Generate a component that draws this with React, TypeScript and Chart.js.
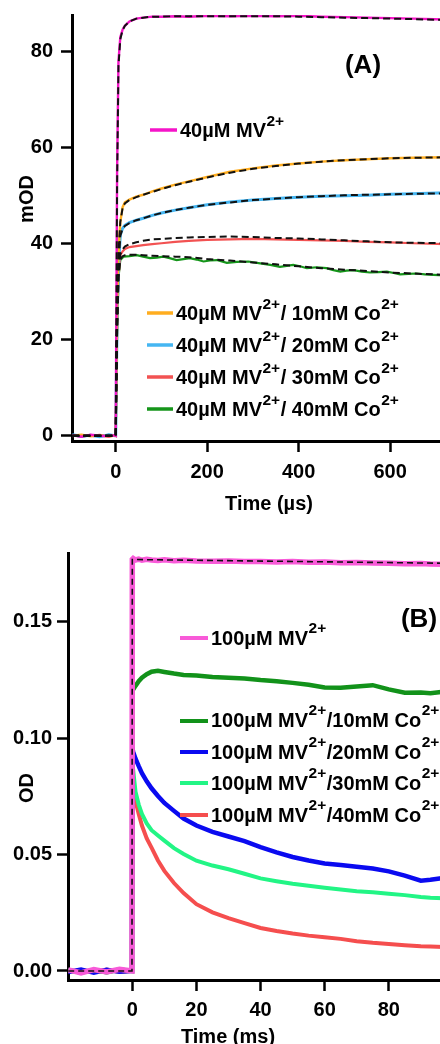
import React, { useEffect, useRef } from "react";
import { Chart, registerables } from "chart.js";

Chart.register(...registerables);

const FONT = "'Liberation Sans', Arial, Helvetica, sans-serif";

// ---------------- Panel A : time (µs) / mOD ----------------
const TIME_A = [-95, -75, -55, -35, -15, -2, 0, 3, 6, 10, 15, 20, 30, 45, 60, 80, 100, 130, 160, 200, 250, 300, 350, 400, 450, 500, 550, 600, 650, 720];
const A_MV40 = [0.1, -0.2, 0.2, 0.0, -0.1, 0.1, 0, 55, 78, 83, 84.6, 85.4, 86.3, 86.9, 87.1, 87.3, 87.3, 87.4, 87.3, 87.5, 87.4, 87.5, 87.4, 87.5, 87.3, 87.2, 87.1, 87.0, 86.9, 86.7];
const A_CO10 = [0, 0.2, -0.1, 0.1, -0.2, 0.1, 0, 25, 38, 44.5, 47.6, 48.6, 49.2, 49.8, 50.2, 50.9, 51.5, 52.3, 53.0, 53.9, 55.0, 55.7, 56.3, 56.7, 57.1, 57.4, 57.6, 57.8, 57.9, 58.0];
const A_CO20 = [0.2, -0.1, 0.1, -0.2, 0.2, 0, 0, 24, 35, 41.8, 43.2, 43.8, 44.4, 44.9, 45.3, 45.9, 46.4, 47.0, 47.5, 48.1, 48.7, 49.1, 49.4, 49.7, 49.9, 50.0, 50.1, 50.3, 50.4, 50.6];
const A_CO30 = [-0.1, 0.1, 0, 0.2, -0.1, 0.1, 0, 22, 33, 37.6, 38.4, 38.9, 39.3, 39.5, 39.7, 39.9, 40.1, 40.4, 40.6, 40.8, 40.9, 41.0, 40.9, 40.8, 40.7, 40.6, 40.4, 40.3, 40.1, 39.9];
const TIME_A_CO40 = [-95, -75, -55, -35, -15, -2, 0, 3, 6, 10, 17, 30, 46, 60, 75, 90, 104, 118, 133, 148, 162, 177, 192, 206, 221, 243, 265, 290, 316, 338, 359, 374, 388, 403, 418, 440, 461, 476, 491, 505, 520, 538, 556, 575, 593, 608, 622, 640, 658, 676, 695, 720];
const A_CO40 = [0.1, -0.2, 0.1, -0.1, 0.2, 0, 0, 22, 33, 36.6, 37.3, 37.4, 37.6, 37.3, 37.0, 37.1, 37.3, 37.0, 36.6, 36.8, 37.0, 36.7, 36.3, 36.5, 36.6, 36.0, 36.2, 36.3, 35.9, 35.6, 35.2, 35.4, 35.6, 35.3, 34.9, 35.1, 34.9, 34.5, 34.2, 34.4, 34.5, 34.2, 34.0, 34.1, 34.2, 33.9, 33.6, 33.7, 33.8, 33.6, 33.5, 33.4];

// fitted curves (black dashed), on TIME_A
const FIT_A_MV40 = [0, 0, 0, 0, 0, 0, 0, 52, 77, 82.6, 84.5, 85.4, 86.3, 86.9, 87.1, 87.3, 87.3, 87.4, 87.4, 87.4, 87.4, 87.4, 87.4, 87.3, 87.2, 87.1, 87.0, 86.9, 86.8, 86.6];
const FIT_A_CO10 = [0, 0, 0, 0, 0, 0, 0, 25, 38, 44.5, 47.4, 48.4, 49.1, 49.7, 50.2, 50.8, 51.4, 52.2, 52.9, 53.8, 54.8, 55.6, 56.2, 56.7, 57.1, 57.4, 57.6, 57.8, 57.9, 58.0];
const FIT_A_CO20 = [0, 0, 0, 0, 0, 0, 0, 24, 35, 41.6, 43.1, 43.7, 44.3, 44.9, 45.3, 45.9, 46.4, 47.0, 47.5, 48.1, 48.6, 49.1, 49.4, 49.7, 49.9, 50.1, 50.2, 50.3, 50.4, 50.5];
const FIT_A_CO30 = [0, 0, 0, 0, 0, 0, 0, 22, 33, 37.8, 38.8, 39.4, 39.9, 40.3, 40.6, 40.9, 41.0, 41.2, 41.3, 41.4, 41.5, 41.4, 41.2, 41.1, 40.9, 40.7, 40.5, 40.3, 40.2, 40.1];
const FIT_A_CO40 = [0, 0, 0, 0, 0, 0, 0, 22, 33, 36.8, 37.4, 37.6, 37.7, 37.7, 37.6, 37.5, 37.4, 37.3, 37.2, 36.8, 36.5, 36.1, 35.7, 35.3, 34.9, 34.6, 34.3, 34.0, 33.8, 33.5];

const A_X_TICKS = [0, 200, 400, 600];
const A_Y_TICKS = [0, 20, 40, 60, 80];
const A_LABELS = [
  "40µM MV^{2+}",
  "40µM MV^{2+}/ 10mM Co^{2+}",
  "40µM MV^{2+}/ 20mM Co^{2+}",
  "40µM MV^{2+}/ 30mM Co^{2+}",
  "40µM MV^{2+}/ 40mM Co^{2+}",
];

// ---------------- Panel B : time (ms) / OD ----------------
const TIME_B = [-20, -16, -12, -8, -4, -0.1, 0, 0.3, 1, 2, 3, 4.5, 6, 8, 10, 13, 16, 20, 25, 30, 35, 40, 45, 50, 55, 60, 65, 70, 75, 80, 85, 90, 93, 97];
const B_MV100 = [0.0005, -0.0008, 0.0006, -0.0004, 0.0007, 0, 0.1768, 0.1772, 0.1766, 0.177, 0.1765, 0.1769, 0.1766, 0.1764, 0.1767, 0.1763, 0.1765, 0.1762, 0.1761, 0.1762, 0.1759, 0.176, 0.1757, 0.1759, 0.1756, 0.1757, 0.1754, 0.1755, 0.1753, 0.1752, 0.175, 0.1751, 0.1749, 0.1748];
const B_CO10 = [0.0003, -0.0006, 0.0004, -0.0005, 0.0006, 0, 0.1205, 0.121, 0.1225, 0.1245, 0.126, 0.1275, 0.1286, 0.129, 0.1285, 0.1278, 0.1272, 0.127, 0.1263, 0.126, 0.1257, 0.125, 0.1245, 0.1238, 0.123, 0.1218, 0.1217, 0.1222, 0.1228, 0.121, 0.1196, 0.1197, 0.1193, 0.12];
const B_CO20 = [-0.0004, 0.0006, -0.0007, 0.0005, -0.0003, 0, 0.0955, 0.094, 0.0912, 0.088, 0.085, 0.0815, 0.0785, 0.0752, 0.0722, 0.0688, 0.0655, 0.0625, 0.0598, 0.0578, 0.0558, 0.0532, 0.051, 0.049, 0.0475, 0.0462, 0.0455, 0.0448, 0.044, 0.0428, 0.041, 0.0388, 0.0392, 0.04];
const B_CO30 = [0.0004, -0.0005, 0.0003, -0.0006, 0.0005, 0, 0.09, 0.086, 0.077, 0.0715, 0.0675, 0.0634, 0.0605, 0.0582, 0.056, 0.0528, 0.0503, 0.0474, 0.0453, 0.0437, 0.0418, 0.0398, 0.0386, 0.0375, 0.0366, 0.0358, 0.035, 0.0343, 0.0338, 0.0332, 0.0326, 0.0318, 0.0315, 0.0313];
const B_CO40 = [-0.0003, 0.0004, -0.0005, 0.0006, -0.0004, 0, 0.087, 0.08, 0.073, 0.0675, 0.0625, 0.057, 0.053, 0.0475, 0.043, 0.0378, 0.0335, 0.0287, 0.0252, 0.0227, 0.0206, 0.0185, 0.0172, 0.0161, 0.0152, 0.0145, 0.0138, 0.0128, 0.0121, 0.0116, 0.0111, 0.0106, 0.0105, 0.0103];
const TIME_B_FIT = [-20, -0.1, 0, 97];
const FIT_B_MV100 = [0, 0, 0.1768, 0.1752];

const B_X_TICKS = [0, 20, 40, 60, 80];
const B_Y_TICKS = [0, 0.05, 0.1, 0.15];
const B_LABELS = [
  "100µM MV^{2+}",
  "100µM MV^{2+}/10mM Co^{2+}",
  "100µM MV^{2+}/20mM Co^{2+}",
  "100µM MV^{2+}/30mM Co^{2+}",
  "100µM MV^{2+}/40mM Co^{2+}",
];

// ---------------- styles ----------------
const COLORS_A = ["#f514c8", "#ffad1f", "#45b6f2", "#f25252", "#15951a"];
const COLORS_B = ["#f85ad8", "#12921a", "#0a0af0", "#22f585", "#f54e4e"];

const pts = (xs: number[], ys: number[]) => xs.map((x, i) => ({ x, y: ys[i] }));

type TextItem = { text: string; x: number; y: number; size: number; rotate?: boolean; middle?: boolean };
type LegendRow = { label: string; color: string; x0: number; x1: number; y: number; tx: number; base: number; lw: number };
type AnnotCfg = { texts: TextItem[]; legend: LegendRow[]; size: number; supSize: number; supRise: number };

function drawRich(ctx: CanvasRenderingContext2D, str: string, x: number, base: number, size: number, supSize: number, rise: number) {
  const parts = str.split(/(\^\{[^}]*\})/);
  for (const p of parts) {
    if (!p) continue;
    if (p.startsWith("^{")) {
      const s = p.slice(2, -1);
      ctx.font = `bold ${supSize}px ${FONT}`;
      ctx.fillText(s, x + 0.5, base - rise);
      x += ctx.measureText(s).width + 1;
    } else {
      ctx.font = `bold ${size}px ${FONT}`;
      ctx.fillText(p, x, base);
      x += ctx.measureText(p).width;
    }
  }
}

function makeAnnot(cfg: AnnotCfg) {
  return {
    id: "annot",
    afterDraw(chart: any) {
      const ctx: CanvasRenderingContext2D = chart.ctx;
      ctx.save();
      ctx.fillStyle = "#000";
      for (const t of cfg.texts) {
        ctx.font = `bold ${t.size}px ${FONT}`;
        ctx.textAlign = "center";
        ctx.textBaseline = t.middle ? "middle" : "alphabetic";
        if (t.rotate) {
          ctx.save();
          ctx.translate(t.x, t.y);
          ctx.rotate(-Math.PI / 2);
          ctx.fillText(t.text, 0, 0);
          ctx.restore();
        } else {
          ctx.fillText(t.text, t.x, t.y);
        }
      }
      ctx.textAlign = "left";
      ctx.textBaseline = "alphabetic";
      for (const r of cfg.legend) {
        ctx.strokeStyle = r.color;
        ctx.lineWidth = r.lw;
        ctx.lineCap = "butt";
        ctx.beginPath();
        ctx.moveTo(r.x0, r.y);
        ctx.lineTo(r.x1, r.y);
        ctx.stroke();
        ctx.fillStyle = "#000";
        drawRich(ctx, r.label, r.tx, r.base, cfg.size, cfg.supSize, cfg.supRise);
      }
      ctx.restore();
    },
  };
}

function axis(min: number, max: number, ticks: number[], fmt: (v: number) => string, size: number, pad: number, fit: (s: any) => void) {
  return {
    type: "linear",
    min,
    max,
    afterBuildTicks: (s: any) => {
      s.ticks = ticks.map((v) => ({ value: v }));
    },
    afterFit: (s: any) => {
      fit(s);
      s.paddingTop = 0;
      s.paddingBottom = 0;
      s.paddingLeft = 0;
      s.paddingRight = 0;
    },
    grid: { drawOnChartArea: false, drawTicks: true, tickLength: 11, tickWidth: 2.5, tickColor: "#000" },
    border: { display: true, color: "#000", width: 3 },
    ticks: {
      color: "#000",
      padding: pad,
      autoSkip: false,
      maxRotation: 0,
      font: { family: FONT, size, weight: "bold" },
      callback: (v: any) => fmt(Number(v)),
    },
  };
}

function dataLine(data: any[], color: string, width: number) {
  return { data, borderColor: color, borderWidth: width, pointRadius: 0, tension: 0, fill: false, order: 2 };
}
function fitLine(data: any[], width: number, dash: number[]) {
  return { data, borderColor: "#111", borderWidth: width, borderDash: dash, pointRadius: 0, tension: 0, fill: false, order: 1 };
}

function configA(): any {
  const legend: LegendRow[] = [
    { label: A_LABELS[0], color: COLORS_A[0], x0: 150, x1: 177, y: 130, tx: 180, base: 137, lw: 3.5 },
    { label: A_LABELS[1], color: COLORS_A[1], x0: 147, x1: 173, y: 313, tx: 176, base: 319.5, lw: 3.5 },
    { label: A_LABELS[2], color: COLORS_A[2], x0: 147, x1: 173, y: 345, tx: 176, base: 351.5, lw: 3.5 },
    { label: A_LABELS[3], color: COLORS_A[3], x0: 147, x1: 173, y: 377, tx: 176, base: 383.5, lw: 3.5 },
    { label: A_LABELS[4], color: COLORS_A[4], x0: 147, x1: 173, y: 409, tx: 176, base: 415.5, lw: 3.5 },
  ];
  return {
    type: "line",
    data: {
      datasets: [
        dataLine(pts(TIME_A, A_MV40), COLORS_A[0], 2.4),
        dataLine(pts(TIME_A, A_CO10), COLORS_A[1], 2.4),
        dataLine(pts(TIME_A, A_CO20), COLORS_A[2], 3),
        dataLine(pts(TIME_A, A_CO30), COLORS_A[3], 2.2),
        dataLine(pts(TIME_A_CO40, A_CO40), COLORS_A[4], 2.2),
        fitLine(pts(TIME_A, FIT_A_MV40), 2, [7, 4]),
        fitLine(pts(TIME_A, FIT_A_CO10), 2, [7, 4]),
        fitLine(pts(TIME_A, FIT_A_CO20), 2, [7, 4]),
        fitLine(pts(TIME_A, FIT_A_CO30), 2, [7, 4]),
        fitLine(pts(TIME_A, FIT_A_CO40), 2, [7, 4]),
      ],
    },
    options: {
      responsive: false,
      animation: false,
      devicePixelRatio: 1,
      layout: { padding: { top: 15, right: 34, left: 0, bottom: 0 } },
      plugins: { legend: { display: false }, tooltip: { enabled: false }, title: { display: false } },
      scales: {
        x: axis(-95.6, 766, A_X_TICKS, (v) => String(v), 20, 8, (s) => { s.height = 89; }),
        y: axis(-1.1, 87.65, A_Y_TICKS, (v) => String(v), 20, 8, (s) => { s.width = 72; }),
      },
    },
    plugins: [
      makeAnnot({
        texts: [
          { text: "(A)", x: 363, y: 66, size: 26, middle: true },
          { text: "Time (µs)", x: 269, y: 510, size: 20 },
          { text: "mOD", x: 33, y: 199, size: 20, rotate: true },
        ],
        legend,
        size: 20,
        supSize: 15.5,
        supRise: 11,
      }),
    ],
  };
}

function configB(): any {
  const legend: LegendRow[] = [
    { label: B_LABELS[0], color: COLORS_B[0], x0: 180, x1: 208, y: 108, tx: 211, base: 115, lw: 4 },
    { label: B_LABELS[1], color: COLORS_B[1], x0: 180, x1: 208, y: 191, tx: 211, base: 197, lw: 4 },
    { label: B_LABELS[2], color: COLORS_B[2], x0: 180, x1: 208, y: 222, tx: 211, base: 228.5, lw: 4 },
    { label: B_LABELS[3], color: COLORS_B[3], x0: 180, x1: 208, y: 253, tx: 211, base: 260, lw: 4 },
    { label: B_LABELS[4], color: COLORS_B[4], x0: 180, x1: 208, y: 285, tx: 211, base: 291.5, lw: 4 },
  ];
  return {
    type: "line",
    data: {
      datasets: [
        dataLine(pts(TIME_B, B_MV100), COLORS_B[0], 5.5),
        dataLine(pts(TIME_B, B_CO10), COLORS_B[1], 4.5),
        dataLine(pts(TIME_B, B_CO20), COLORS_B[2], 4.5),
        dataLine(pts(TIME_B, B_CO30), COLORS_B[3], 4),
        dataLine(pts(TIME_B, B_CO40), COLORS_B[4], 4),
        fitLine(pts(TIME_B_FIT, FIT_B_MV100), 1.6, [6, 4]),
      ],
    },
    options: {
      responsive: false,
      animation: false,
      devicePixelRatio: 1,
      layout: { padding: { top: 23, right: 20, left: 0, bottom: 0 } },
      plugins: { legend: { display: false }, tooltip: { enabled: false }, title: { display: false } },
      scales: {
        x: axis(-20.06, 114.7, B_X_TICKS, (v) => String(v), 20, 7, (s) => { s.height = 64; }),
        y: axis(-0.00387, 0.1796, B_Y_TICKS, (v) => v.toFixed(2), 20, 5, (s) => { s.width = 68; }),
      },
    },
    plugins: [
      makeAnnot({
        texts: [
          { text: "(B)", x: 419, y: 90, size: 26, middle: true },
          { text: "Time (ms)", x: 228, y: 513, size: 20 },
          { text: "OD", x: 33, y: 258, size: 20, rotate: true },
        ],
        legend,
        size: 20,
        supSize: 15.5,
        supRise: 12,
      }),
    ],
  };
}

function Panel({ make, top, width, height }: { make: () => any; top: number; width: number; height: number }) {
  const ref = useRef<HTMLCanvasElement>(null);
  useEffect(() => {
    const chart = new Chart(ref.current as HTMLCanvasElement, make());
    return () => chart.destroy();
  }, []);
  return (
    <canvas
      ref={ref}
      width={width}
      height={height}
      style={{ position: "absolute", left: 0, top, width, height, display: "block" }}
    />
  );
}

export default function App() {
  return (
    <div
      style={{
        position: "fixed",
        left: 0,
        top: 0,
        width: 440,
        height: 1044,
        overflow: "hidden",
        background: "#fff",
      }}
    >
      <Panel make={configA} top={0} width={500} height={530} />
      <Panel make={configB} top={530} width={520} height={514} />
    </div>
  );
}
